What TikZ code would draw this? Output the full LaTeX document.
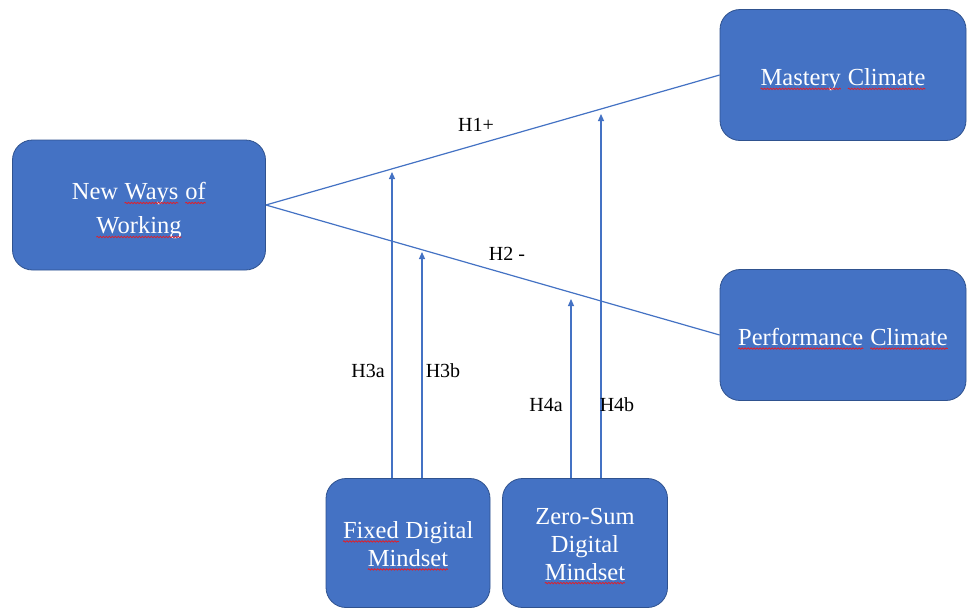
\documentclass[tikz,border=0pt]{standalone}
\usepackage{fontspec}
\setmainfont{Liberation Serif}
\usetikzlibrary{arrows.meta,decorations.pathmorphing}
\definecolor{boxblue}{HTML}{4472C4}
\definecolor{boxedge}{HTML}{2F528F}
\definecolor{linkblue}{HTML}{4472C4}
\definecolor{squigred}{HTML}{E0202A}
\newcommand\squig[1]{\tikz[baseline=(sqw.base),x=1pt,y=1pt]{\node[inner sep=0pt,outer sep=0pt,draw=none,fill=none,rectangle,sharp corners,minimum width=0pt,minimum height=0pt,text=white](sqw){#1};\draw[squigred,sharp corners,line width=0.8pt,decorate,decoration={snake,amplitude=0.7pt,segment length=3pt}] ([yshift=-3pt]sqw.base west)--([yshift=-3pt]sqw.base east);}}
\tikzset{
  box/.style={draw=boxedge,line width=0.8pt,fill=boxblue,rounded corners=20pt,inner sep=0pt},
  boxtext/.style={text=white,align=center,font=\fontsize{24.5}{28}\selectfont,inner sep=0pt},
  link/.style={linkblue,line width=1.2pt},
  arr/.style={link,-{Triangle[length=7pt,width=6pt]}},
  lab/.style={font=\fontsize{20}{24}\selectfont,text=black,inner sep=0pt}
}
\begin{document}
\begin{tikzpicture}[x=1pt,y=-1pt]
\useasboundingbox (0,0) rectangle (968,608);
\fill[white] (0,0) rectangle (968,608);
\node[box,minimum width=253pt,minimum height=130pt] (nww) at (139,205) {};
\node[box,minimum width=246pt,minimum height=131pt] (mc) at (843,75) {};
\node[box,minimum width=246pt,minimum height=131pt] (pc) at (843,335) {};
\node[box,minimum width=164pt,minimum height=129pt] (fdm) at (408,543) {};
\node[box,minimum width=165pt,minimum height=129pt] (zsm) at (585,543) {};
\node[boxtext] (nwwt) at ([yshift=-6pt]nww.center) {New \squig{Ways} \squig{of}\\[6pt]\squig{Working}};
\node[boxtext] (mct) at ([yshift=-5pt]mc.center) {\squig{Mastery} \squig{Climate}};
\node[boxtext] (pct) at ([yshift=-4pt]pc.center) {\squig{Performance} \squig{Climate}};
\node[boxtext] (fdmt) at ([yshift=-3pt]fdm.center) {\squig{Fixed} Digital\\\squig{Mindset}};
\node[boxtext] (zsmt) at ([yshift=-3pt]zsm.center) {Zero-Sum\\Digital\\\squig{Mindset}};
\draw[link] (nww.east) -- (mc.west);
\draw[link] (nww.east) -- (pc.west);
\coordinate (t3a) at (392,172);
\coordinate (t3b) at (422,252);
\coordinate (t4a) at (571,299);
\coordinate (t4b) at (601,114);
\draw[arr] (t3a |- fdm.north) -- (t3a);
\draw[arr] (t3b |- fdm.north) -- (t3b);
\draw[arr] (t4a |- zsm.north) -- (t4a);
\draw[arr] (t4b |- zsm.north) -- (t4b);
\node[lab] (h1) at (476,125) {H1+};
\node[lab] (h2) at (507,254) {H2 -};
\node[lab] (h3a) at (368,371) {H3a};
\node[lab] (h3b) at (443,371) {H3b};
\node[lab] (h4a) at (546,405) {H4a};
\node[lab] (h4b) at (617,405) {H4b};
\end{tikzpicture}
\end{document}
